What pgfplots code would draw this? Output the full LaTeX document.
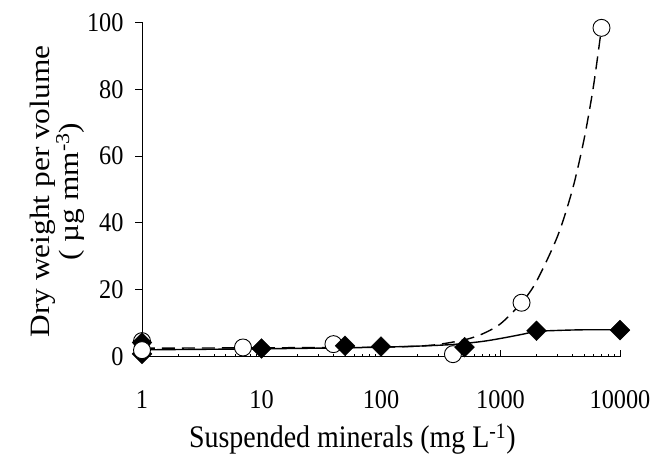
\documentclass[border=0pt]{standalone}
\usepackage{pgfplots}
\pgfplotsset{compat=1.18}
\usepackage{fontspec}
\setmainfont{Liberation Serif}
\newfontfamily\tickfont{Liberation Serif}[FakeStretch=0.9]
\newfontfamily\xlabfont{Liberation Serif}[FakeStretch=0.89]
\newfontfamily\ylabfont{Liberation Serif}[FakeStretch=1.12]
\begin{document}
\fontsize{28bp}{30bp}\selectfont
\begin{tikzpicture}
\useasboundingbox (-142bp,-98.5bp) rectangle (514bp,356.5bp);
\begin{axis}[
  scale only axis, width=478bp, height=334bp,
  xmode=log, xmin=1, xmax=10000, ymin=0, ymax=100,
  axis x line=bottom, axis y line=left,
  axis line style={-, line width=0.8bp, black},
  xtick={1,10,100,1000,10000},
  xticklabels={1,10,100,1000,10000},
  ytick={0,20,40,60,80,100},
  minor xtick={}, minor x tick num=0,
  major tick length=7bp,
  x tick style={line width=0.8bp, black},
  y tick style={line width=0.8bp, black},
  xtick align=inside, ytick align=outside,
  /pgf/number format/assume math mode=true,
  ticklabel style={font=\tickfont\fontsize{27bp}{30bp}\selectfont},
  xticklabel style={yshift=-25bp},
  yticklabel style={xshift=-2bp},
  xlabel={Suspended minerals (mg L\textsuperscript{-1})},
  xlabel style={font=\xlabfont\fontsize{31.4bp}{34bp}\selectfont,
    at={(axis description cs:0.44,0)}, anchor=base, yshift=-90.5bp},
  ylabel={Dry weight per volume\\( µg mm\textsuperscript{-3})},
  ylabel style={font=\ylabfont\fontsize{28bp}{27bp}\selectfont,
    at={(axis description cs:-0.178,0.494)}, anchor=center, align=center},
  clip=false,
]
% dashed fitted curve (open circles)
\addplot[black, line width=1.4bp, dash pattern=on 13bp off 7bp, smooth] coordinates {
 (1,2.5) (10,2.6) (100,2.8) (200,3.1) (300,3.6) (500,5.0) (700,6.7) (1000,9.8)
 (1500,16.1) (2000,22.5) (3000,36) (4000,50) (5000,65) (6000,81) (7000,98.4)};
% solid fitted curve (diamonds)
\addplot[black, line width=1.4bp, smooth] coordinates {
 (1,2.0) (10,2.3) (50,2.6) (100,2.8) (200,3.1) (400,3.6) (700,4.5) (1000,5.4)
 (1500,6.6) (2000,7.5) (3000,7.8) (5000,8.0) (10000,8.0)};
% open circles
\addplot[only marks, mark=*, mark size=8.5bp, mark options={fill=white, draw=black, line width=0.9bp}] coordinates {
 (1,4.6) (7,2.7) (40,3.7) (400,0.7) (1500,16.1) (7000,98.4)};
% filled diamonds
\addplot[only marks, mark=square*, mark size=7bp, mark options={rotate=45, fill=black, draw=black}] coordinates {
 (1,4.2) (1,0.8) (10,2.4) (50,3.2) (100,3.0) (500,2.8) (2000,7.7) (10000,7.9)};
% open circle drawn above the low diamond at x = 1
\addplot[only marks, mark=*, mark size=8.5bp, mark options={fill=white, draw=black, line width=0.9bp}] coordinates {
 (1,1.9)};
\end{axis}
\end{tikzpicture}
\end{document}
